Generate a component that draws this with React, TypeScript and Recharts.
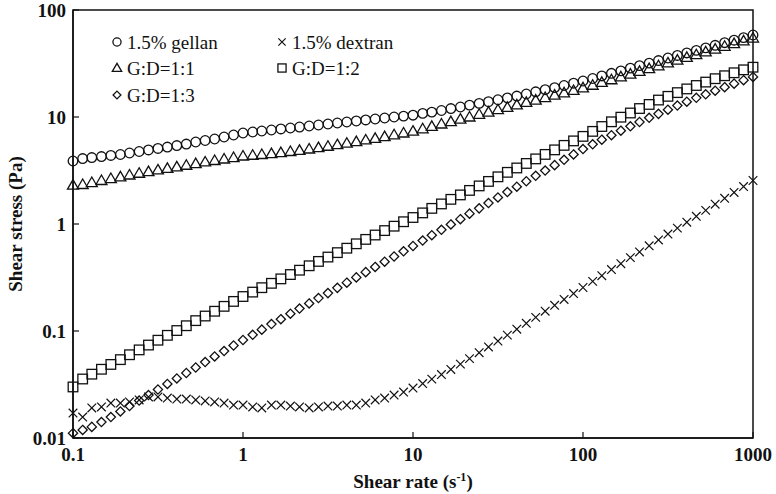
import React from 'react';
import { ScatterChart, Scatter, XAxis, YAxis, ReferenceArea, Label } from 'recharts';

// shear rate (1/s), 18 points per decade
const shearRate = [
  0.1, 0.114, 0.129, 0.147, 0.167, 0.19, 0.215, 0.245, 0.278, 0.316, 0.359, 0.408, 0.464, 0.527, 0.599, 0.681, 0.774, 0.88,
  1, 1.14, 1.29, 1.47, 1.67, 1.9, 2.15, 2.45, 2.78, 3.16, 3.59, 4.08, 4.64, 5.27, 5.99, 6.81, 7.74, 8.8,
  10, 11.4, 12.9, 14.7, 16.7, 19, 21.5, 24.5, 27.8, 31.6, 35.9, 40.8, 46.4, 52.7, 59.9, 68.1, 77.4, 88,
  100, 114, 129, 147, 167, 190, 215, 245, 278, 316, 359, 408, 464, 527, 599, 681, 774, 880, 1000,
];

// shear stress (Pa)
const gellan = [
  3.88, 4.09, 4.18, 4.27, 4.37, 4.46, 4.61, 4.76, 4.92, 5.08, 5.24, 5.41, 5.59, 5.84, 6.03, 6.23, 6.5, 6.79,
  7.09, 7.24, 7.4, 7.56, 7.73, 7.89, 8.06, 8.24, 8.42, 8.6, 8.79, 8.98, 9.18, 9.38, 9.58, 9.79, 10.0, 10.2,
  10.4, 10.8, 11.1, 11.5, 12.0, 12.4, 12.9, 13.4, 13.9, 14.5, 15.1, 15.7, 16.4, 17.2, 18.0, 18.8, 19.7, 20.7,
  21.7, 22.9, 24.2, 25.6, 27.0, 28.6, 30.2, 31.9, 33.7, 35.6, 37.6, 39.7, 41.9, 44.3, 46.8, 49.5, 52.2, 55.2, 58.4,
];

const dextran = [
  0.0171, 0.0157, 0.0191, 0.0195, 0.0212, 0.0212, 0.0217, 0.0227, 0.0242, 0.0242, 0.0236, 0.0231, 0.0231, 0.0227, 0.0222, 0.0217, 0.0212, 0.0203,
  0.0203, 0.0195, 0.0191, 0.0203, 0.0203, 0.0199, 0.0195, 0.0191, 0.0195, 0.0199, 0.0199, 0.0203, 0.0203, 0.0212, 0.0227, 0.0236, 0.0252, 0.0269,
  0.0293, 0.0323, 0.0355, 0.0392, 0.0437, 0.049, 0.0552, 0.0627, 0.0709, 0.0806, 0.0915, 0.104, 0.118, 0.134, 0.153, 0.174, 0.197, 0.224,
  0.255, 0.291, 0.329, 0.375, 0.426, 0.485, 0.548, 0.625, 0.709, 0.806, 0.915, 1.04, 1.18, 1.34, 1.53, 1.74, 1.97, 2.24, 2.55,
];

const gd11 = [
  2.31, 2.34, 2.44, 2.55, 2.66, 2.76, 2.87, 2.98, 3.09, 3.2, 3.31, 3.42, 3.54, 3.67, 3.8, 3.92, 4.05, 4.18,
  4.32, 4.39, 4.46, 4.55, 4.65, 4.76, 4.88, 5.02, 5.18, 5.33, 5.51, 5.69, 5.89, 6.1, 6.32, 6.56, 6.82, 7.09,
  7.37, 7.76, 8.17, 8.6, 9.06, 9.54, 10.0, 10.6, 11.1, 11.7, 12.3, 13.0, 13.7, 14.4, 15.2, 16.0, 16.8, 17.7,
  18.7, 19.8, 21.1, 22.3, 23.7, 25.2, 26.7, 28.3, 30.1, 32.0, 34.0, 36.1, 38.2, 40.6, 43.1, 45.8, 48.5, 51.5, 54.7,
];

const gd12 = [
  0.03, 0.0356, 0.0395, 0.0439, 0.0487, 0.054, 0.06, 0.0666, 0.0739, 0.082, 0.0911, 0.101, 0.112, 0.125, 0.138, 0.153, 0.17, 0.189,
  0.21, 0.231, 0.254, 0.279, 0.307, 0.337, 0.37, 0.407, 0.447, 0.491, 0.54, 0.594, 0.653, 0.718, 0.789, 0.868, 0.954, 1.05,
  1.15, 1.27, 1.4, 1.54, 1.7, 1.87, 2.06, 2.27, 2.5, 2.76, 3.04, 3.34, 3.68, 4.06, 4.47, 4.93, 5.43, 5.98,
  6.59, 7.34, 8.15, 9.02, 9.96, 10.9, 12.0, 13.1, 14.4, 15.6, 16.9, 18.3, 19.7, 21.2, 22.8, 24.3, 25.9, 27.6, 29.2,
];

const gd13 = [
  0.0111, 0.0119, 0.0127, 0.0141, 0.0157, 0.0177, 0.0199, 0.0224, 0.0252, 0.0284, 0.032, 0.036, 0.0405, 0.0456, 0.0513, 0.0578, 0.065, 0.0732,
  0.0824, 0.0921, 0.103, 0.116, 0.129, 0.145, 0.162, 0.181, 0.203, 0.226, 0.253, 0.283, 0.317, 0.355, 0.397, 0.444, 0.497, 0.556,
  0.623, 0.7, 0.786, 0.883, 0.991, 1.11, 1.25, 1.4, 1.57, 1.77, 1.99, 2.23, 2.51, 2.82, 3.16, 3.55, 3.98, 4.47,
  5.02, 5.56, 6.14, 6.76, 7.45, 8.19, 8.98, 9.83, 10.7, 11.7, 12.8, 13.9, 15.1, 16.3, 17.6, 19.0, 20.5, 22.1, 23.7,
];

const xTicks = [0.1, 1, 10, 100, 1000];
const yTicks = [0.01, 0.1, 1, 10, 100];

const toPoints = (ys: number[]) => shearRate.map((x, i) => ({ x, y: ys[i] }));

const INK = '#111';
const SERIF = '"Liberation Serif", "Times New Roman", serif';

// marker shapes; k scales the marker (legend uses smaller ones)
const circleShape = (p: any, k = 1) => (
  <circle cx={p.cx} cy={p.cy} r={4.8 * k} fill="none" stroke={INK} strokeWidth={1.3} />
);
const crossShape = (p: any, k = 1) => {
  const s = 4.3 * k;
  return (
    <path
      d={`M${p.cx - s},${p.cy - s}L${p.cx + s},${p.cy + s}M${p.cx - s},${p.cy + s}L${p.cx + s},${p.cy - s}`}
      stroke={INK}
      strokeWidth={1.2}
      fill="none"
    />
  );
};
const triangleShape = (p: any, k = 1) => (
  <path
    d={`M${p.cx},${p.cy - 5.5 * k}L${p.cx + 5.5 * k},${p.cy + 4 * k}L${p.cx - 5.5 * k},${p.cy + 4 * k}Z`}
    fill="none"
    stroke={INK}
    strokeWidth={1.3}
  />
);
const squareShape = (p: any, k = 1) => (
  <rect
    x={p.cx - 4.8 * k}
    y={p.cy - 4.8 * k}
    width={9.6 * k}
    height={9.6 * k}
    fill="none"
    stroke={INK}
    strokeWidth={1.3}
  />
);
const diamondShape = (p: any, k = 1) => (
  <path
    d={`M${p.cx},${p.cy - 4.6 * k}L${p.cx + 4.6 * k},${p.cy}L${p.cx},${p.cy + 4.6 * k}L${p.cx - 4.6 * k},${p.cy}Z`}
    fill="none"
    stroke={INK}
    strokeWidth={1.3}
  />
);

const series = [
  { name: '1.5% gellan', data: gellan, shape: circleShape },
  { name: '1.5% dextran', data: dextran, shape: crossShape },
  { name: 'G:D=1:1', data: gd11, shape: triangleShape },
  { name: 'G:D=1:2', data: gd12, shape: squareShape },
  { name: 'G:D=1:3', data: gd13, shape: diamondShape },
];

// legend slots: [marker x, row y]
const legendSlots = [
  [117, 42],
  [282, 42],
  [117, 68],
  [282, 68],
  [117, 95],
];

const tickStyle = { fontFamily: SERIF, fontWeight: 700, fontSize: 19, fill: INK };

const XTitle = (props: any) => {
  const vb = props.viewBox;
  return (
    <text
      x={vb.x + vb.width / 2}
      y={vb.y + 50}
      textAnchor="middle"
      fontFamily={SERIF}
      fontWeight={700}
      fontSize={19}
      fill={INK}
    >
      Shear rate (s
      <tspan dy={-7} fontSize={12}>-1</tspan>
      <tspan dy={7}>)</tspan>
    </text>
  );
};

const YTitle = (props: any) => {
  const vb = props.viewBox;
  const cy = vb.y + vb.height / 2;
  return (
    <text
      x={15}
      y={cy}
      transform={`rotate(-90, 15, ${cy})`}
      textAnchor="middle"
      dominantBaseline="central"
      fontFamily={SERIF}
      fontWeight={700}
      fontSize={19}
      fill={INK}
    >
      Shear stress (Pa)
    </text>
  );
};

export default function App() {
  return (
    <div style={{ position: 'absolute', left: 0, top: 0, width: 776, height: 494, background: '#fff' }}>
      <ScatterChart width={776} height={494} margin={{ top: 10, right: 23, bottom: 0, left: 0 }}>
        <XAxis
          type="number"
          dataKey="x"
          scale="log"
          domain={[0.1, 1000]}
          ticks={xTicks}
          interval={0}
          height={56}
          stroke={INK}
          axisLine={{ stroke: INK, strokeWidth: 1.5 }}
          tickLine={{ stroke: INK, strokeWidth: 1.2 }}
          tickSize={-6}
          tickMargin={16}
          tick={tickStyle}
        >
          <Label content={XTitle} />
        </XAxis>
        <YAxis
          type="number"
          dataKey="y"
          scale="log"
          domain={[0.01, 100]}
          ticks={yTicks}
          interval={0}
          width={73}
          stroke={INK}
          axisLine={{ stroke: INK, strokeWidth: 1.5 }}
          tickLine={{ stroke: INK, strokeWidth: 1.2 }}
          tickSize={-6}
          tickMargin={13}
          tick={tickStyle}
        >
          <Label content={YTitle} />
        </YAxis>
        <ReferenceArea x1={0.1} x2={1000} y1={0.01} y2={100} fill="none" stroke={INK} strokeWidth={1.5} ifOverflow="visible" />
        {series.map((s) => (
          <Scatter
            key={s.name}
            name={s.name}
            data={toPoints(s.data)}
            shape={(p: any) => s.shape(p)}
            isAnimationActive={false}
          />
        ))}
      </ScatterChart>
      <svg
        width={776}
        height={494}
        style={{ position: 'absolute', left: 0, top: 0, pointerEvents: 'none' }}
      >
        {series.map((s, i) => {
          const [mx, my] = legendSlots[i];
          return (
            <g key={s.name}>
              {s.shape({ cx: mx, cy: my }, 0.85)}
              <text
                x={mx + 10}
                y={my}
                dominantBaseline="central"
                fontFamily={SERIF}
                fontSize={19}
                fill={INK}
              >
                {s.name}
              </text>
            </g>
          );
        })}
      </svg>
    </div>
  );
}
